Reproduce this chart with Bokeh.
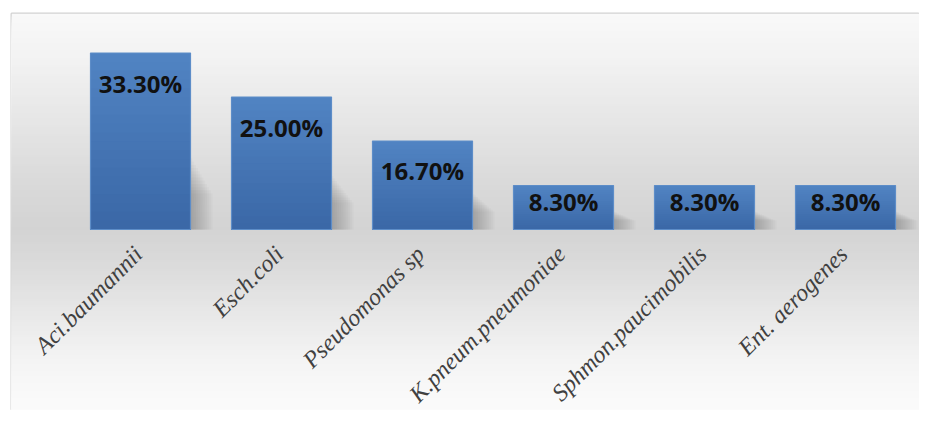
from bokeh.plotting import figure
from bokeh.models import Range1d, ColumnDataSource
from bokeh.core.properties import value
from bokeh.embed import file_html
from bokeh.resources import INLINE

# ---- data ----
categories = ["Aci.baumannii", "Esch.coli", "Pseudomonas sp",
              "K.pneum.pneumoniae", "Sphmon.paucimobilis", "Ent. aerogenes"]
percentages = [33.3, 25.0, 16.7, 8.3, 8.3, 8.3]
value_labels = ["33.30%", "25.00%", "16.70%", "8.30%", "8.30%", "8.30%"]

# ---- layout helpers ----
W, H = 919, 410
ML, MT = 11, 13
frame_w, frame_h = W - ML, H - MT
px_per_cat = 141.0
px_per_pct = 5.3
zero_px = 229 - MT                # zero line from frame top
x0 = -(140 - ML) / px_per_cat
x1 = x0 + frame_w / px_per_cat
y1 = zero_px / px_per_pct
y0 = -(frame_h - zero_px) / px_per_pct

p = figure(width=W, height=H, output_backend="svg", toolbar_location=None,
           x_range=Range1d(x0, x1), y_range=Range1d(y0, y1),
           min_border_left=ML, min_border_top=MT, min_border_right=0,
           min_border_bottom=0)
p.xaxis.visible = False
p.yaxis.visible = False
p.grid.visible = False
p.background_fill_color = "#fafafa"
p.border_fill_color = "white"
p.outline_line_color = "#d2d2d2"
p.outline_line_width = 2

# ---- background vertical gradient (style) ----
stops = [(13, 249), (60, 242), (120, 230), (180, 218), (228, 211),
         (270, 220), (320, 234), (360, 244), (400, 250), (420, 251)]
def gray_at(py):
    for (a, ga), (b, gb) in zip(stops, stops[1:]):
        if a <= py <= b:
            return ga + (gb - ga) * (py - a) / (b - a)
    return stops[-1][1]
tops, cols = [], []
py = 13
while py < 420:
    g = int(round(gray_at(py + 1.5)))
    tops.append((229 - py) / px_per_pct)
    cols.append("#%02x%02x%02x" % (g, g, g))
    py += 3
p.quad(left=x0, right=x1, top=tops, bottom=y0, fill_color=cols,
       line_color=None)

xs = list(range(len(categories)))
bw = 100 / px_per_cat

# ---- soft shadows ----
for j in range(1, 13):
    p.vbar(x=[x + 0.013 * j for x in xs], width=bw,
           top=[v * (0.42 - 0.018 * j) for v in percentages], bottom=0,
           fill_color="#5a5a5a", fill_alpha=0.035, line_color=None)

# ---- bars with vertical gradient ----
N = 20
top_rgb = (0x51, 0x84, 0xc3)
bot_rgb = (0x3a, 0x67, 0xa6)
for k in range(N):
    t = (k + 0.5) / N
    c = tuple(int(round(a + (b - a) * t)) for a, b in zip(top_rgb, bot_rgb))
    p.vbar(x=xs, width=bw,
           top=[v * (1 - k / N) for v in percentages], bottom=0,
           fill_color="#%02x%02x%02x" % c, line_color=None)
p.vbar(x=xs, width=bw, top=percentages, bottom=0, fill_color=None,
       line_color="#5d8dc8", line_width=1.2)

# ---- value labels ----
src = ColumnDataSource(dict(
    x=xs,
    y=[v - min(30, v * px_per_pct * 0.36) / px_per_pct for v in percentages],
    t=value_labels))
p.text(x="x", y="y", text="t", source=src, text_align="center",
       text_baseline="middle", text_font=value("Open Sans"),
       text_font_style="bold", text_font_size="24px", text_color="#111111")

# ---- category labels (rotated) ----
csrc = ColumnDataSource(dict(x=[x - 0.015 for x in xs],
                             y=[-3.9] * len(xs), t=categories))
p.text(x="x", y="y", text="t", source=csrc, angle=0.785398,
       text_align="right", text_baseline="middle",
       text_font=value("Liberation Serif"), text_font_style="italic",
       text_font_size="24px", text_color="#404040")

open("out.html", "w").write(file_html(p, INLINE))
